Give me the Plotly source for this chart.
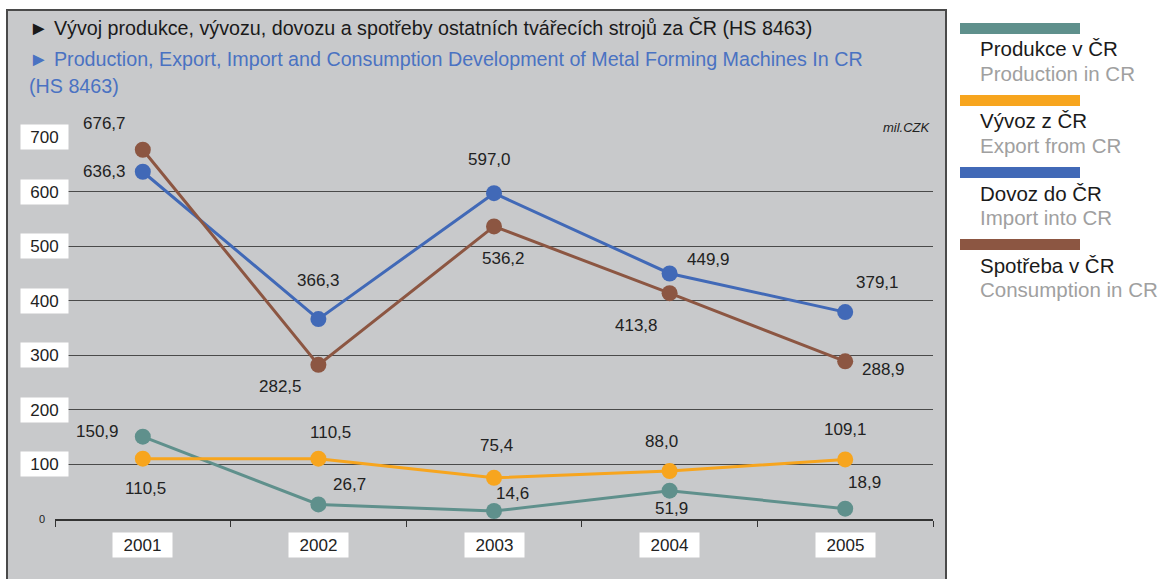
import plotly.graph_objects as go

# data (mil. CZK)
years = ["2001", "2002", "2003", "2004", "2005"]
produkce = [150.9, 26.7, 14.6, 51.9, 18.9]
vyvoz = [110.5, 110.5, 75.4, 88.0, 109.1]
dovoz = [636.3, 366.3, 597.0, 449.9, 379.1]
spotreba = [676.7, 282.5, 536.2, 413.8, 288.9]
y_ticks = [100, 200, 300, 400, 500, 600, 700]

names_cz = ["Produkce v ČR", "Vývoz z ČR", "Dovoz do ČR", "Spotřeba v ČR"]
names_en = ["Production in CR", "Export from CR", "Import into CR", "Consumption in CR"]
colors = ["#5f908c", "#f7a51e", "#4169b7", "#8c5642"]
series = [produkce, vyvoz, dovoz, spotreba]

# label offsets in px (dx right, dy down) for each point, per series
offsets = [
    [(-45, -5), (31, -20), (18, -18), (2, 18), (19, -26)],
    [(3, 30), (12, -26), (2, -32), (-8, -29), (0, -30)],
    [(-38, 0), (0, -39), (-5, -34), (39, -14), (32, -30)],
    [(-38, -26), (-38, 22), (9, 32), (-33, 32), (38, 8)],
]

W, H = 1167, 579
L, R, T, B = 55, 234, 137, 60
FONT = "Liberation Sans, Arial, sans-serif"


def px_x(px):
    return (px - L) / (W - L - R)


def px_y(py):
    return (H - B - py) / (H - T - B)


def fmt(v):
    return f"{v:.1f}".replace(".", ",")


fig = go.Figure()

for name, vals, col in zip(names_cz, series, colors):
    fig.add_trace(go.Scatter(
        x=list(range(len(years))), y=vals, mode="lines+markers", name=name,
        line=dict(color=col, width=3),
        marker=dict(color=col, size=16),
        cliponaxis=False, showlegend=False, hoverinfo="skip",
    ))

ann = []
# value labels
for vals, offs in zip(series, offsets):
    for i, (v, (dx, dy)) in enumerate(zip(vals, offs)):
        ann.append(dict(x=i, y=v, xref="x", yref="y", text=fmt(v), showarrow=False,
                        xshift=dx, yshift=-dy, font=dict(size=17, color="#222222", family=FONT)))

# y tick labels in white boxes
for t in y_ticks:
    ann.append(dict(x=px_x(44.5), y=t, xref="paper", yref="y", text=str(t), showarrow=False,
                    xanchor="center", yanchor="middle", bgcolor="white", width=41, height=18,
                    borderpad=3, font=dict(size=17, color="#222222", family=FONT)))
ann.append(dict(x=px_x(42), y=0, xref="paper", yref="y", text="0", showarrow=False,
                xanchor="center", yanchor="middle", font=dict(size=11, color="#222222", family=FONT)))

# x labels in white boxes
for i, yr in enumerate(years):
    ann.append(dict(x=i, y=px_y(545), xref="x", yref="paper", text=yr, showarrow=False,
                    xanchor="center", yanchor="middle", bgcolor="white", width=53, height=18,
                    borderpad=3, font=dict(size=17, color="#222222", family=FONT)))

# titles
ann.append(dict(x=px_x(27), y=px_y(28), xref="paper", yref="paper", xanchor="left", yanchor="middle",
                showarrow=False, text="► Vývoj produkce, vývozu, dovozu a spotřeby ostatních tvářecích strojů za ČR (HS 8463)",
                font=dict(size=19.7, color="#1a1a1a", family=FONT)))
ann.append(dict(x=px_x(27), y=px_y(59), xref="paper", yref="paper", xanchor="left", yanchor="middle",
                showarrow=False, text="► Production, Export, Import and Consumption Development of Metal Forming Machines In CR",
                font=dict(size=19.7, color="#4a72c2", family=FONT)))
ann.append(dict(x=px_x(27), y=px_y(86), xref="paper", yref="paper", xanchor="left", yanchor="middle",
                showarrow=False, text="(HS 8463)",
                font=dict(size=19.7, color="#4a72c2", family=FONT)))
ann.append(dict(x=1, y=px_y(128), xref="paper", yref="paper", xanchor="right", yanchor="middle",
                showarrow=False, text="<i>mil.CZK</i>",
                font=dict(size=13, color="#222222", family=FONT)))

# legend on the right
shapes = [dict(type="rect", xref="paper", yref="paper", x0=px_x(7), x1=px_x(946),
               y0=px_y(620), y1=px_y(10), fillcolor="#c8c9cb",
               line=dict(color="#4a4a4a", width=2), layer="below")]
for i, (cz, en, col) in enumerate(zip(names_cz, names_en, colors)):
    top = 23 + i * 72
    shapes.append(dict(type="rect", xref="paper", yref="paper", x0=px_x(960), x1=px_x(1080),
                       y0=px_y(top + 11), y1=px_y(top), fillcolor=col, line=dict(width=0)))
    ann.append(dict(x=px_x(978), y=px_y(top + 26), xref="paper", yref="paper", xanchor="left",
                    yanchor="middle", showarrow=False, text=cz,
                    font=dict(size=20.5, color="#1a1a1a", family=FONT)))
    ann.append(dict(x=px_x(978), y=px_y(top + 50), xref="paper", yref="paper", xanchor="left",
                    yanchor="middle", showarrow=False, text=en,
                    font=dict(size=20.5, color="#a0a0a0", family=FONT)))

fig.update_layout(
    width=W, height=H,
    margin=dict(l=L, r=R, t=T, b=B, pad=0),
    paper_bgcolor="white", plot_bgcolor="rgba(0,0,0,0)",
    annotations=ann, shapes=shapes, showlegend=False,
    font=dict(family=FONT), hovermode=False,
)
fig.update_xaxes(range=[-0.5, 4.5], showticklabels=False, showgrid=False, zeroline=False,
                 showline=True, linecolor="#333333", linewidth=1.5,
                 tickvals=[-0.5, 0.5, 1.5, 2.5, 3.5, 4.5], ticks="outside", ticklen=6, tickcolor="#333333")
fig.update_yaxes(range=[0, 700], tickvals=y_ticks, showticklabels=False, showgrid=True,
                 gridcolor="#4a4a4a", gridwidth=1, zeroline=False)

fig.write_html("out.html", config={"displayModeBar": False},
               post_script="document.body.style.margin='0';")
